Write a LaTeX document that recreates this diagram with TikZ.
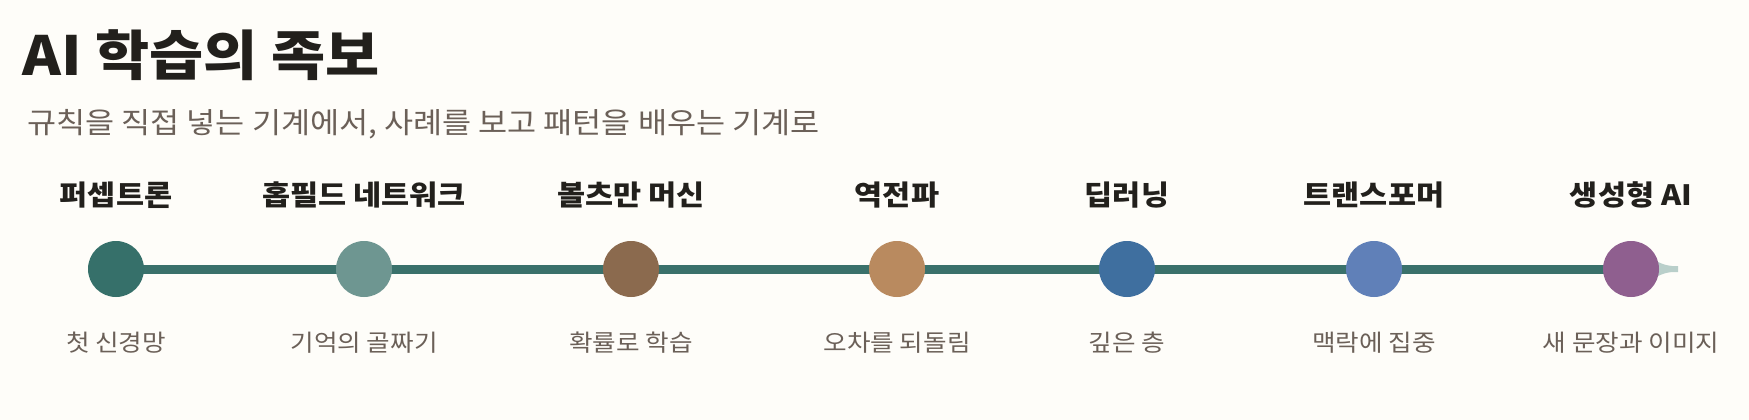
\documentclass[tikz,border=0pt]{standalone}
\usepackage{fontspec}
\setmainfont{Noto Sans CJK KR}[FakeStretch=1.09]
\usepackage{xcolor}
\usetikzlibrary{positioning}
\pgfdeclarelayer{background}
\pgfsetlayers{background,main}
\definecolor{paper}{HTML}{FEFDF9}
\definecolor{ink}{HTML}{22201C}
\definecolor{muted}{HTML}{6B6058}
\definecolor{trackc}{HTML}{3A716B}
\definecolor{tailc}{HTML}{B9CFCA}
\definecolor{colA}{HTML}{36706A}
\definecolor{colB}{HTML}{6E9691}
\definecolor{colC}{HTML}{8B6A4E}
\definecolor{colD}{HTML}{B98A5F}
\definecolor{colE}{HTML}{3F6F9F}
\definecolor{colF}{HTML}{6080B8}
\definecolor{colG}{HTML}{8F5F8F}

\begin{document}
\begin{tikzpicture}[x=1pt,y=-1pt,
  dot/.style={circle, minimum size=56pt, inner sep=0pt},
  toplbl/.style={anchor=base, inner sep=0pt, text=ink, font=\fontsize{28}{32}\selectfont\bfseries},
  botlbl/.style={anchor=base, inner sep=0pt, text=muted, font=\fontsize{23.5}{26}\selectfont},
  track/.style={line width=9pt, draw=trackc}]
  \begin{pgfonlayer}{background}
    \fill[paper] (0,0) rectangle (1749,420);
  \end{pgfonlayer}
  \useasboundingbox (0,0) rectangle (1749,420);
  % Title and subtitle
  \node[anchor=base west, inner sep=0pt, text=ink, font=\fontsize{54}{60}\selectfont\bfseries] (title) at (22,76) {AI 학습의 족보};
  \node[anchor=base west, inner sep=0pt, text=muted, font=\fontsize{29}{34}\selectfont] (subtitle) at (27,133) {규칙을 직접 넣는 기계에서, 사례를 보고 패턴을 배우는 기계로};
  % Milestones on the timeline
  \foreach \x/\col/\ttl/\dsc [count=\i] in {116/colA/퍼셉트론/첫 신경망,
      364/colB/홉필드 네트워크/기억의 골짜기,
      631/colC/볼츠만 머신/확률로 학습,
      897/colD/역전파/오차를 되돌림,
      1127/colE/딥러닝/깊은 층,
      1374/colF/트랜스포머/맥락에 집중,
      1631/colG/생성형 AI/새 문장과 이미지} {
    \node[dot, fill=\col] (c\i) at (\x,269) {};
    \node[toplbl] (t\i) at (\x,205) {\ttl};
    \node[botlbl] (b\i) at (\x,351) {\dsc};
  }
  % Track behind the dots
  \begin{pgfonlayer}{background}
    \foreach \i [evaluate=\i as \j using int(\i+1)] in {1,...,6}
      \draw[track] (c\i.center) -- (c\j.center);
    \fill[tailc] ([shift={(0,-7)}]c7.center) -- ([shift={(27,-7)}]c7.center)
      .. controls ([shift={(34,-4)}]c7.center) .. ([shift={(41,-3)}]c7.center)
      -- ([shift={(47,-3)}]c7.center) -- ([shift={(47,3)}]c7.center)
      -- ([shift={(41,3)}]c7.center)
      .. controls ([shift={(34,4)}]c7.center) .. ([shift={(27,7)}]c7.center)
      -- ([shift={(0,7)}]c7.center) -- cycle;
  \end{pgfonlayer}
\end{tikzpicture}
\end{document}
